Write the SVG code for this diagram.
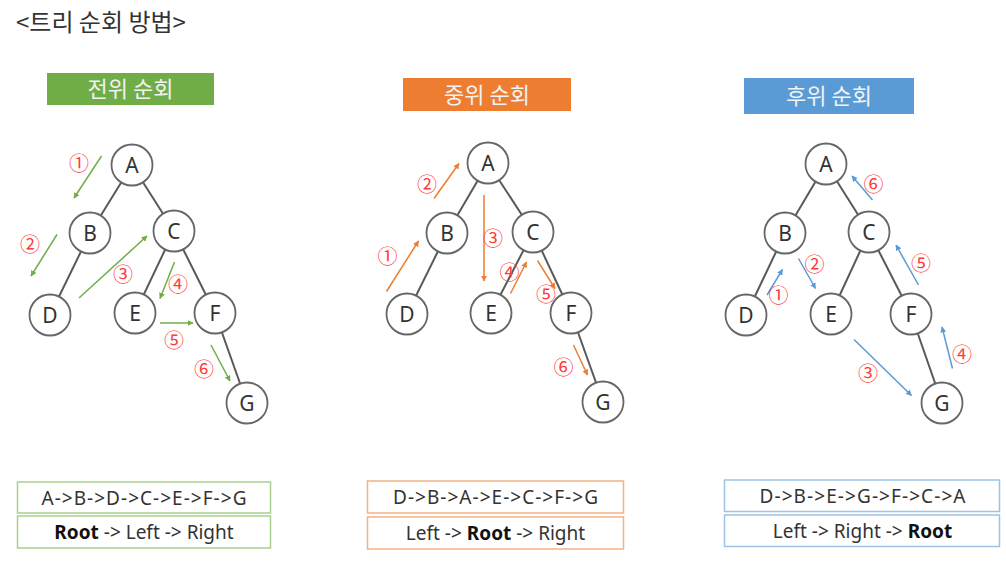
<svg xmlns="http://www.w3.org/2000/svg" width="1006" height="565" viewBox="0 0 1006 565">
<style>
.title{font-family:"Noto Sans CJK KR","Noto Sans",sans-serif;font-size:24px;fill:#333}
.hdr{font-family:"Noto Sans CJK KR","Noto Sans",sans-serif;font-size:22px;fill:#F2F2F2;text-anchor:middle}
.node circle{fill:#fff;stroke:#666;stroke-width:1.8}
.node text{font-family:"Noto Sans","Liberation Sans",sans-serif;font-size:21px;fill:#333;text-anchor:middle;dominant-baseline:central}
.edge line{stroke:#595959;stroke-width:2}
.num{font-family:"Noto Sans CJK KR","DejaVu Sans",sans-serif;font-size:20px;fill:#FF3B3B;text-anchor:middle;dominant-baseline:central}
.g{stroke:#70AD47;stroke-width:1.5;marker-end:url(#ag)}
.o{stroke:#ED7D31;stroke-width:1.5;marker-end:url(#ao)}
.b{stroke:#5B9BD5;stroke-width:1.5;marker-end:url(#ab)}
.box{fill:#fff;stroke-width:1.5}
.bt{font-family:"Noto Sans","Liberation Sans",sans-serif;font-size:19px;fill:#333;text-anchor:middle}
.bt tspan.r{font-weight:bold;fill:#111}
</style>
<defs>
<marker id="ag" viewBox="0 0 10 10" refX="9" refY="5" markerWidth="6" markerHeight="6" orient="auto" markerUnits="userSpaceOnUse"><path d="M0,0 L10,5 L0,10 z" fill="#70AD47"/></marker>
<marker id="ao" viewBox="0 0 10 10" refX="9" refY="5" markerWidth="6" markerHeight="6" orient="auto" markerUnits="userSpaceOnUse"><path d="M0,0 L10,5 L0,10 z" fill="#ED7D31"/></marker>
<marker id="ab" viewBox="0 0 10 10" refX="9" refY="5" markerWidth="6" markerHeight="6" orient="auto" markerUnits="userSpaceOnUse"><path d="M0,0 L10,5 L0,10 z" fill="#5B9BD5"/></marker>
</defs>
<rect width="1006" height="565" fill="#fff"/>
<text class="title" x="16" y="31">&lt;트리 순회 방법&gt;</text>

<!-- headers -->
<g id="hdr-pre"><rect x="47" y="73" width="167" height="32" fill="#70AD47"/><text class="hdr" x="130.5" y="97">전위 순회</text></g>
<g id="hdr-in"><rect x="403" y="78" width="168" height="33" fill="#ED7D31"/><text class="hdr" x="487" y="102.5">중위 순회</text></g>
<g id="hdr-post"><rect x="744" y="78" width="170" height="36" fill="#5B9BD5"/><text class="hdr" x="829" y="104">후위 순회</text></g>

<!-- tree edges -->
<g id="edges" class="edge">
<line x1="132" y1="165" x2="90" y2="233"/><line x1="132" y1="165" x2="174" y2="231"/>
<line x1="90" y1="233" x2="50" y2="315"/><line x1="174" y1="231" x2="135" y2="313"/>
<line x1="174" y1="231" x2="215" y2="313"/><line x1="215" y1="313" x2="247" y2="403"/>

<line x1="488" y1="163" x2="447" y2="233"/><line x1="488" y1="163" x2="533" y2="232"/>
<line x1="447" y1="233" x2="407" y2="314"/><line x1="533" y1="232" x2="491" y2="313"/>
<line x1="533" y1="232" x2="571" y2="313"/><line x1="571" y1="313" x2="603" y2="402"/>

<line x1="826" y1="164" x2="785" y2="233"/><line x1="826" y1="164" x2="869" y2="232"/>
<line x1="785" y1="233" x2="746" y2="315"/><line x1="869" y1="232" x2="831" y2="314"/>
<line x1="869" y1="232" x2="911" y2="314"/><line x1="911" y1="314" x2="942" y2="403"/>
</g>

<!-- traversal arrows -->
<g id="connectors">
<line class="g" x1="101.5" y1="156" x2="74" y2="198"/>
<line class="g" x1="57" y1="234.5" x2="31" y2="276"/>
<line class="g" x1="79" y1="298" x2="147" y2="236"/>
<line class="g" x1="174.5" y1="262" x2="160" y2="298.5"/>
<line class="g" x1="160" y1="323" x2="193" y2="323"/>
<line class="g" x1="211" y1="345" x2="230" y2="381"/>

<line class="o" x1="386.5" y1="291.5" x2="418.5" y2="241"/>
<line class="o" x1="434" y1="198.5" x2="459" y2="163.5"/>
<line class="o" x1="484" y1="195" x2="484" y2="281"/>
<line class="o" x1="510.5" y1="293.5" x2="526.5" y2="262"/>
<line class="o" x1="537.5" y1="260.5" x2="555" y2="288.5"/>
<line class="o" x1="573.5" y1="345" x2="587.5" y2="375"/>

<line class="b" x1="767" y1="295" x2="782.5" y2="269.5"/>
<line class="b" x1="798.5" y1="258.5" x2="815.5" y2="288.5"/>
<line class="b" x1="854" y1="339.5" x2="911.5" y2="395.5"/>
<line class="b" x1="952.5" y1="368.5" x2="942" y2="327"/>
<line class="b" x1="918.5" y1="285" x2="896" y2="245"/>
<line class="b" x1="872.5" y1="200" x2="852" y2="176"/>
</g>

<!-- step numbers -->
<g id="steps">
<text class="num" x="79" y="162.5">①</text><text class="num" x="30" y="243">②</text><text class="num" x="123" y="273">③</text>
<text class="num" x="178" y="283">④</text><text class="num" x="174" y="339">⑤</text><text class="num" x="204" y="368.5">⑥</text>

<text class="num" x="387.5" y="255">①</text><text class="num" x="427" y="183.5">②</text><text class="num" x="493" y="237.5">③</text>
<text class="num" x="509.5" y="271">④</text><text class="num" x="546" y="293.5">⑤</text><text class="num" x="563.5" y="366">⑥</text>

<text class="num" x="778.5" y="294.5">①</text><text class="num" x="814.5" y="263.5">②</text><text class="num" x="868" y="372.5">③</text>
<text class="num" x="962" y="353.5">④</text><text class="num" x="921" y="262">⑤</text><text class="num" x="873.5" y="183.5">⑥</text>
</g>

<!-- nodes: preorder tree -->
<g id="pre-A" class="node"><circle cx="132" cy="165" r="20.5"/><text x="132" y="165">A</text></g>
<g id="pre-B" class="node"><circle cx="90" cy="233" r="20.5"/><text x="90" y="233">B</text></g>
<g id="pre-C" class="node"><circle cx="174" cy="231" r="20.5"/><text x="174" y="231">C</text></g>
<g id="pre-D" class="node"><circle cx="50" cy="315" r="20.5"/><text x="50" y="315">D</text></g>
<g id="pre-E" class="node"><circle cx="135" cy="313" r="20.5"/><text x="135" y="313">E</text></g>
<g id="pre-F" class="node"><circle cx="215" cy="313" r="20.5"/><text x="215" y="313">F</text></g>
<g id="pre-G" class="node"><circle cx="247" cy="403" r="20.5"/><text x="247" y="403">G</text></g>

<!-- nodes: inorder tree -->
<g id="in-A" class="node"><circle cx="488" cy="163" r="20.5"/><text x="488" y="163">A</text></g>
<g id="in-B" class="node"><circle cx="447" cy="233" r="20.5"/><text x="447" y="233">B</text></g>
<g id="in-C" class="node"><circle cx="533" cy="232" r="20.5"/><text x="533" y="232">C</text></g>
<g id="in-D" class="node"><circle cx="407" cy="314" r="20.5"/><text x="407" y="314">D</text></g>
<g id="in-E" class="node"><circle cx="491" cy="313" r="20.5"/><text x="491" y="313">E</text></g>
<g id="in-F" class="node"><circle cx="571" cy="313" r="20.5"/><text x="571" y="313">F</text></g>
<g id="in-G" class="node"><circle cx="603" cy="402" r="20.5"/><text x="603" y="402">G</text></g>

<!-- nodes: postorder tree -->
<g id="post-A" class="node"><circle cx="826" cy="164" r="20.5"/><text x="826" y="164">A</text></g>
<g id="post-B" class="node"><circle cx="785" cy="233" r="20.5"/><text x="785" y="233">B</text></g>
<g id="post-C" class="node"><circle cx="869" cy="232" r="20.5"/><text x="869" y="232">C</text></g>
<g id="post-D" class="node"><circle cx="746" cy="315" r="20.5"/><text x="746" y="315">D</text></g>
<g id="post-E" class="node"><circle cx="831" cy="314" r="20.5"/><text x="831" y="314">E</text></g>
<g id="post-F" class="node"><circle cx="911" cy="314" r="20.5"/><text x="911" y="314">F</text></g>
<g id="post-G" class="node"><circle cx="942" cy="403" r="20.5"/><text x="942" y="403">G</text></g>

<!-- result boxes -->
<g id="res-pre">
<rect class="box" x="17.5" y="482" width="253" height="31" stroke="#A9D18E"/>
<rect class="box" x="17.5" y="516" width="253" height="32" stroke="#A9D18E"/>
<text class="bt" x="144" y="504.5" textLength="205" lengthAdjust="spacing">A-&gt;B-&gt;D-&gt;C-&gt;E-&gt;F-&gt;G</text>
<text class="bt" x="144" y="538.5"><tspan class="r">Root</tspan> -&gt; Left -&gt; Right</text>
</g>
<g id="res-in">
<rect class="box" x="367.5" y="481" width="256" height="32" stroke="#F4B183"/>
<rect class="box" x="367.5" y="517" width="256" height="32" stroke="#F4B183"/>
<text class="bt" x="495.5" y="504" textLength="205" lengthAdjust="spacing">D-&gt;B-&gt;A-&gt;E-&gt;C-&gt;F-&gt;G</text>
<text class="bt" x="495.5" y="539.5"><tspan>Left -&gt; </tspan><tspan class="r">Root</tspan><tspan> -&gt; Right</tspan></text>
</g>
<g id="res-post">
<rect class="box" x="724.5" y="480" width="275" height="31.5" stroke="#9DC3E6"/>
<rect class="box" x="724.5" y="515" width="275" height="31.5" stroke="#9DC3E6"/>
<text class="bt" x="862.5" y="502.5" textLength="206" lengthAdjust="spacing">D-&gt;B-&gt;E-&gt;G-&gt;F-&gt;C-&gt;A</text>
<text class="bt" x="862.5" y="537.5">Left -&gt; Right -&gt; <tspan class="r">Root</tspan></text>
</g>
</svg>
